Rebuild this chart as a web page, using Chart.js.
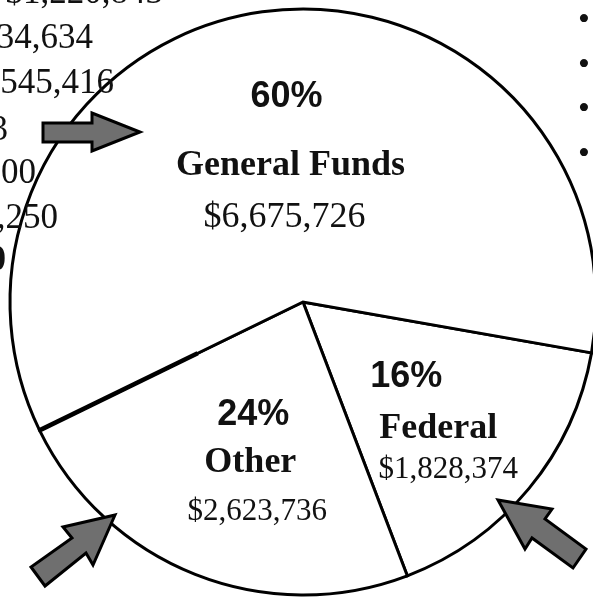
<!DOCTYPE html>
<html>
<head>
<meta charset="utf-8">
<script src="https://cdn.jsdelivr.net/npm/chart.js@4/dist/chart.umd.min.js"></script>
<style>
  html, body { margin:0; padding:0; background:#fff; overflow:hidden; }
  #wrap { position:absolute; left:0; top:0; width:606px; height:604px; }
</style>
</head>
<body>
<div id="wrap"><canvas id="fundChart" width="606" height="604"></canvas></div>
<script>
// slices, clockwise from the right-hand edge
const sources = ["Federal", "Other", "General Funds"];
const amounts = [1828374, 2623736, 6675726];
const percents = ["16%", "24%", "60%"];
const amountText = ["$1,828,374", "$2,623,736", "$6,675,726"];

// text cut off at the left edge of the page (belongs to a neighbouring table)
const leftText = ["$1,220,843", "34,634", "545,416", "3", "00", ",250", "0"];

// label placement per slice (radius fraction, angle shift in degrees)
const labelR = [0.654, 0.608, 0.435];
const labelShift = [5.5, -4.4, 2.4];
const pctOff = [[-32, -51], [3, -47], [-4, -68]];
const amtOff = [[10, 40], [7, 48], [-6, 52]];
const amtSize = [31, 31, 36];

const labelPlugin = {
    id: "labels",
    afterDatasetsDraw(chart) {
        const ctx = chart.ctx;
        const arcs = chart.getDatasetMeta(0).data;
        ctx.save();

        // heavier edge between Other and General Funds
        const o = arcs[1];
        ctx.strokeStyle = "#000";
        ctx.lineWidth = 4.5;
        ctx.beginPath();
        ctx.moveTo(o.x + Math.cos(o.endAngle) * o.outerRadius * 0.4, o.y + Math.sin(o.endAngle) * o.outerRadius * 0.4);
        ctx.lineTo(o.x + Math.cos(o.endAngle) * (o.outerRadius - 1), o.y + Math.sin(o.endAngle) * (o.outerRadius - 1));
        ctx.stroke();

        ctx.fillStyle = "#111";
        ctx.textAlign = "center";
        ctx.textBaseline = "alphabetic";
        arcs.forEach(function(a, i) {
            let mid = (a.startAngle + a.endAngle) / 2 + labelShift[i] * Math.PI / 180;
            let x = a.x + Math.cos(mid) * a.outerRadius * labelR[i];
            let y = a.y + Math.sin(mid) * a.outerRadius * labelR[i];
            ctx.font = "bold 36px 'Liberation Serif'";
            ctx.fillText(sources[i], x, y);
            ctx.font = "bold 36px 'Liberation Sans'";
            ctx.fillText(percents[i], x + pctOff[i][0], y + pctOff[i][1]);
            ctx.font = amtSize[i] + "px 'Liberation Serif'";
            ctx.fillText(amountText[i], x + amtOff[i][0], y + amtOff[i][1]);
        });

        // cut-off text on the left
        ctx.textAlign = "right";
        const ends = [163, 93, 114, 8, 36, 58, 6];
        const bases = [3, 48, 93, 140, 183, 228, 270];
        leftText.forEach(function(t, i) {
            ctx.font = (i == 6 ? "bold " : "") + "35px 'Liberation Serif'";
            ctx.fillText(t, ends[i], bases[i]);
        });

        // bullets on the right edge
        ctx.textAlign = "center";
        ctx.font = "34px 'Liberation Serif'";
        [30, 75, 119, 164].forEach(function(by) {
            ctx.fillText("\u2022", 584, by);
        });

        // arrows
        const arrows = [
            [[43,123],[92,123],[92,113],[140,132],[92,151],[92,142],[43,142]],
            [[115,515],[63,527],[72,538],[31,567],[45,586],[86,553],[93,565]],
            [[498,500],[552,509],[545,519],[586,549],[573,568],[532,538],[525,549]]
        ];
        ctx.fillStyle = "#6f6f6f";
        ctx.strokeStyle = "#000";
        ctx.lineWidth = 3;
        ctx.lineJoin = "miter";
        arrows.forEach(function(pts) {
            ctx.beginPath();
            ctx.moveTo(pts[0][0], pts[0][1]);
            for (let k = 1; k < pts.length; k++) ctx.lineTo(pts[k][0], pts[k][1]);
            ctx.closePath();
            ctx.fill();
            ctx.stroke();
        });
        ctx.restore();
    }
};

let fundChart = new Chart(document.getElementById("fundChart"), {
    type: "pie",
    data: {
        labels: sources,
        datasets: [{
            data: amounts,
            backgroundColor: "#ffffff",
            borderColor: "#000000",
            borderWidth: 3,
            borderJoinStyle: "miter"
        }]
    },
    options: {
        responsive: false,
        animation: false,
        rotation: 100,
        radius: 293,
        layout: { padding: 0 },
        plugins: {
            legend: { display: false },
            tooltip: { enabled: false }
        }
    },
    plugins: [labelPlugin]
});
</script>
</body>
</html>
